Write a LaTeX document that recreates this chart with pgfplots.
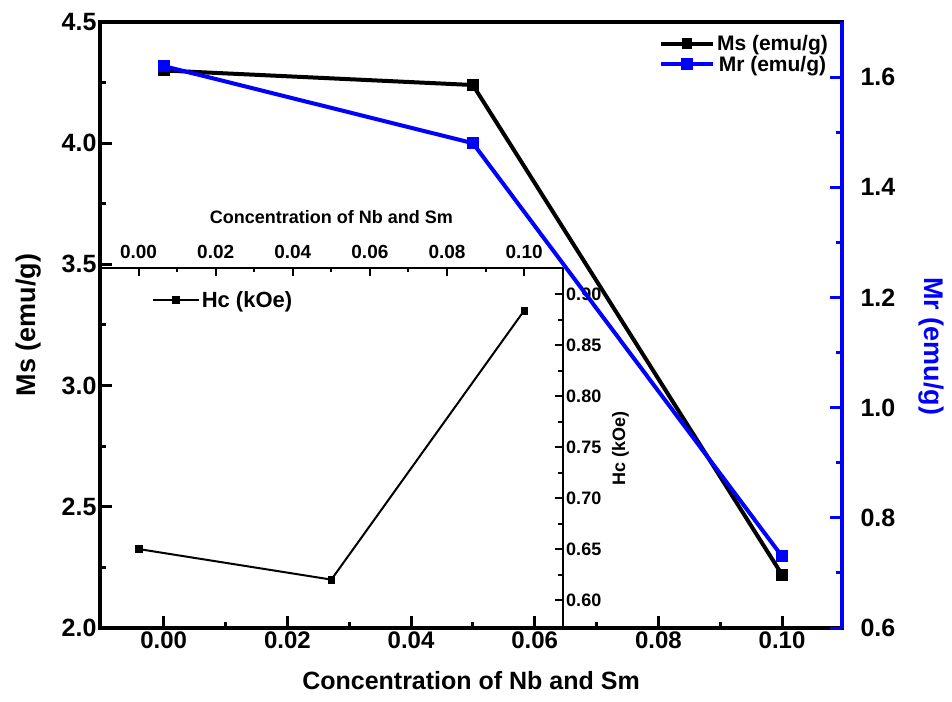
\documentclass[border=0pt]{standalone}
\usepackage{fontspec}
\setmainfont{Liberation Sans}
\usepackage{pgfplots}
\pgfplotsset{compat=1.18}
\newcommand{\px}[1]{\fontsize{#1}{#1}\selectfont\bfseries}

\begin{document}
\begin{tikzpicture}
\useasboundingbox (0,0) rectangle (952pt,701pt);

% ---------- inset: coercivity ----------
\begin{axis}[
  at={(100pt,73pt)}, anchor=south west, scale only axis,
  width=462.7pt, height=360pt,
  xmin=-0.01, xmax=0.11, ymin=0.5725, ymax=0.9258,
  axis x line*=top, axis y line*=right,
  axis line style={line width=2pt, -},
  tick align=inside,
  xtick={0,0.02,0.04,0.06,0.08,0.10}, minor x tick num=1,
  ytick={0.60,0.65,0.70,0.75,0.80,0.85,0.90}, minor y tick num=1,
  major tick length=8pt, minor tick length=4.5pt,
  tick style={line width=2pt, black},
  xticklabel style={font=\px{19}, yshift=6pt, /pgf/number format/.cd, fixed, fixed zerofill, precision=2, assume math mode=true},
  yticklabel style={font=\px{18}, /pgf/number format/.cd, fixed, fixed zerofill, precision=2, assume math mode=true},
  xlabel={Concentration of Nb and Sm}, xlabel style={font=\px{18}, yshift=14pt},
  ylabel={Hc (kOe)}, ylabel style={font=\px{18}, yshift=-4pt},
  legend style={at={(0.105,0.911)}, anchor=west, draw=none, fill=none, font=\px{22}},
  legend image code/.code={\draw[mark repeat=2,mark phase=2] plot coordinates {(0pt,0pt)(23pt,0pt)(46pt,0pt)};},
]
\addplot[black, line width=2pt, mark=square*, mark size=3.3pt, mark options={line width=0.6pt, solid}]
  coordinates {(0,0.650) (0.05,0.620) (0.10,0.884)};
\addlegendentry{Hc (kOe)}
\end{axis}

% ---------- main axis: Ms ----------
\begin{axis}[
  at={(100pt,73pt)}, anchor=south west, scale only axis,
  width=742pt, height=606pt,
  xmin=-0.0103, xmax=0.1097, ymin=2, ymax=4.5,
  axis line style={line width=3.5pt},
  tick align=inside, xtick pos=lower, ytick pos=left,
  xtick={0,0.02,0.04,0.06,0.08,0.10}, minor x tick num=1,
  ytick={2,2.5,3,3.5,4,4.5}, minor y tick num=1,
  major tick length=12pt, minor tick length=6pt,
  tick style={line width=3pt, black},
  xticklabel style={font=\px{24}, /pgf/number format/.cd, fixed, fixed zerofill, precision=2, assume math mode=true},
  yticklabel style={font=\px{25}, /pgf/number format/.cd, fixed, fixed zerofill, precision=1, assume math mode=true},
  xlabel={Concentration of Nb and Sm}, xlabel style={font=\px{25}, yshift=-16pt},
  ylabel={Ms (emu/g)}, ylabel style={font=\px{27}, yshift=14pt},
]
\addplot[black, line width=4pt, mark=square*, mark size=5.4pt, mark options={line width=1pt, solid}]
  coordinates {(0,4.30) (0.05,4.24) (0.10,2.22)};
\end{axis}

% ---------- right axis: Mr ----------
\begin{axis}[
  at={(100pt,73pt)}, anchor=south west, scale only axis,
  width=742pt, height=606pt,
  xmin=-0.0103, xmax=0.1097, ymin=0.6, ymax=1.7,
  axis x line=none, axis y line*=right,
  y axis line style={blue, line width=3.5pt, -},
  tick align=inside,
  ytick={0.6,0.8,1.0,1.2,1.4,1.6}, minor y tick num=1,
  major tick length=12pt, minor tick length=6pt,
  tick style={line width=3pt, blue},
  yticklabel style={black, font=\px{25}, xshift=15pt, /pgf/number format/.cd, fixed, fixed zerofill, precision=1, assume math mode=true},
  ylabel={Mr (emu/g)},
  ylabel style={blue, font=\px{27}, at={(rel axis cs:1.12,0.465)}, anchor=center, rotate=180},
  legend style={at={(0.988,0.985)}, anchor=north east, draw=none, fill=none, font=\px{21}},
  legend image code/.code={\draw[mark repeat=2,mark phase=2] plot coordinates {(0pt,0pt)(26pt,0pt)(52pt,0pt)};},
]
\addlegendimage{black, line width=4pt, mark=square*, mark size=4.8pt, mark options={line width=1pt, solid}}
\addlegendentry{Ms (emu/g)}
\addplot[blue, line width=4pt, mark=square*, mark size=5.4pt, mark options={line width=1pt, solid}]
  coordinates {(0,1.62) (0.05,1.48) (0.10,0.73)};
\addlegendentry{Mr (emu/g)}
\end{axis}
\end{tikzpicture}
\end{document}
